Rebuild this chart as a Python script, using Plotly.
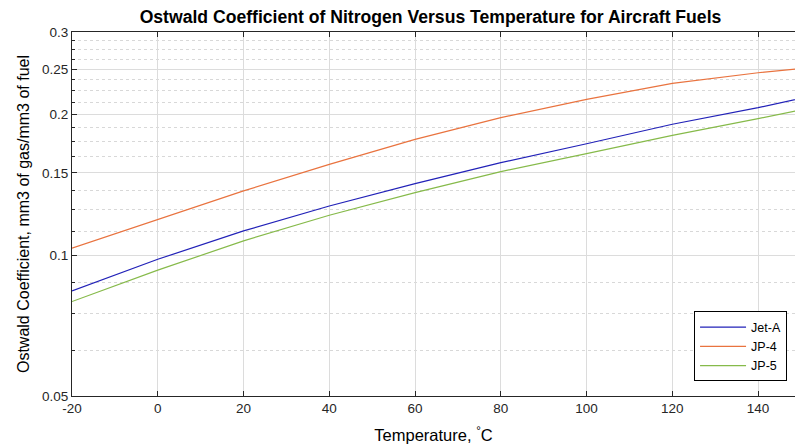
import plotly.graph_objects as go

# Data
temperature_c = [-20, 0, 20, 40, 60, 80, 100, 120, 140, 150]
jet_a = [0.0839, 0.0980, 0.1127, 0.1274, 0.1422, 0.1577, 0.1731, 0.1905, 0.2067, 0.2165]
jp_4 = [0.1035, 0.1190, 0.1372, 0.1564, 0.1769, 0.1968, 0.2154, 0.2329, 0.2455, 0.2507]
jp_5 = [0.0796, 0.0929, 0.1073, 0.1217, 0.1361, 0.1509, 0.1648, 0.1804, 0.1958, 0.2045]

x_ticks = [-20, 0, 20, 40, 60, 80, 100, 120, 140]
x_tick_labels = ["-20", "0", "20", "40", "60", "80", "100", "120", "140"]
y_ticks = [0.05, 0.1, 0.15, 0.2, 0.25, 0.3]
y_tick_labels = ["0.05", "0.1", "0.15", "0.2", "0.25", "0.3"]
y_minor_ticks = [0.0625, 0.075, 0.0875, 0.1125, 0.125, 0.1375, 0.1625, 0.175,
                 0.1875, 0.2125, 0.225, 0.2375, 0.2625, 0.275, 0.2875]

series = [
    ("Jet-A", jet_a, "#2222B8"),
    ("JP-4", jp_4, "#E9733F"),
    ("JP-5", jp_5, "#86BA4A"),
]

FONT = "Liberation Sans, Arial, Helvetica, sans-serif"
AX = "#262626"

fig = go.Figure()
for name, vals, color in series:
    fig.add_trace(go.Scatter(x=temperature_c, y=vals, mode="lines", name=name,
                             line=dict(color=color, width=1.2)))

fig.update_layout(
    width=795, height=448,
    margin=dict(l=72, r=0, t=32, b=52, autoexpand=False),
    paper_bgcolor="white", plot_bgcolor="white",
    font=dict(family=FONT, color=AX, size=13),
    title=dict(text="<b>Ostwald Coefficient of Nitrogen Versus Temperature for Aircraft Fuels</b>",
               x=0.5415, xanchor="center", y=0.962, yanchor="middle",
               font=dict(size=17.6, color="black")),
    showlegend=True,
    legend=dict(x=0.989, xanchor="right", y=0.04, yanchor="bottom",
                bgcolor="white", bordercolor="black", borderwidth=1,
                font=dict(size=12.5, color="black"), tracegroupgap=0,
                itemwidth=46),
)

fig.update_xaxes(
    range=[-20, 148.6], tickmode="array", tickvals=x_ticks, ticktext=x_tick_labels,
    automargin=False,
    showline=True, linecolor=AX, linewidth=1, mirror="ticks",
    ticks="inside", ticklen=5, tickcolor=AX,
    showgrid=True, gridcolor="#DCDCDC", gridwidth=1, zeroline=False,
    tickfont=dict(size=13.5, color=AX),
    title=dict(text="Temperature, <sup>°</sup>C", font=dict(size=16.5, color="black"), standoff=14),
)

fig.update_yaxes(
    type="log", range=[-1.30103, -0.522879], automargin=False,
    tickmode="array", tickvals=y_ticks, ticktext=y_tick_labels,
    showline=True, linecolor=AX, linewidth=1, mirror=False,
    ticks="inside", ticklen=5, tickcolor=AX,
    showgrid=True, gridcolor="#DCDCDC", gridwidth=1, zeroline=False,
    tickfont=dict(size=13.5, color=AX),
    minor=dict(tickmode="array", tickvals=y_minor_ticks, ticks="inside", ticklen=3,
               tickcolor=AX, showgrid=True, gridcolor="#D8D8D8", griddash="dot", gridwidth=1),
    title=dict(text="Ostwald Coefficient, mm3 of gas/mm3 of fuel", font=dict(size=16, color="black"), standoff=8),
)

fig.write_html("out.html", config={"displayModeBar": False})

# remove the default page margin so the figure sits at the window origin
with open("out.html", "r", encoding="utf-8") as f:
    html = f.read()
html = html.replace("<body>", '<body style="margin:0;padding:0;overflow:hidden">', 1)
with open("out.html", "w", encoding="utf-8") as f:
    f.write(html)
